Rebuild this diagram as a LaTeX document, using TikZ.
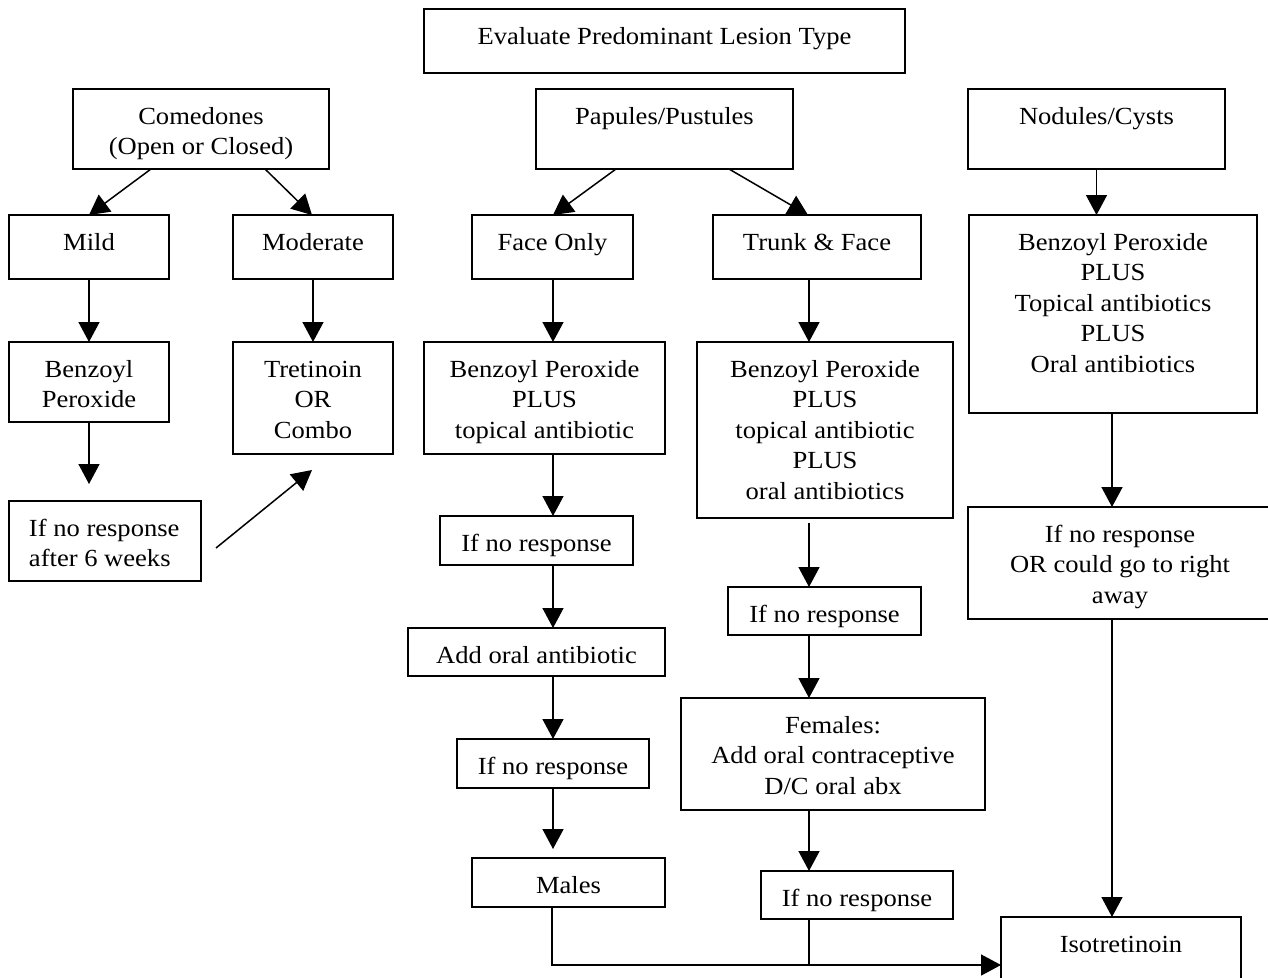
\documentclass[tikz,border=0pt]{standalone}
\usepackage{fontspec}
\setmainfont{Liberation Serif}[FakeStretch=1.08]
\usetikzlibrary{arrows.meta}
\newcommand{\bt}[3]{\parbox[t][#2pt][t]{#1pt}{\centering\rule{0pt}{35.5pt}#3}}
\newcommand{\btl}[3]{\parbox[t][#2pt][t]{#1pt}{\raggedright\leftskip=20pt\rule{0pt}{35.5pt}#3}}
\tikzset{
  box/.style={draw, line width=1.5pt, inner sep=0pt, outer sep=0pt, anchor=north west,
    font=\fontsize{24.6}{30.4}\selectfont},
  arr/.style={line width=1.5pt, -{Triangle[length=20pt,width=21pt]}},
  ln/.style={line width=1.5pt}
}
\begin{document}
\begin{tikzpicture}[x=1pt,y=-1pt]
\useasboundingbox (0,0) rectangle (1268,977);
\fill[white] (0,0) rectangle (1268,977);
\clip (0,0) rectangle (1268,977);
% top row
\node[box] (eval) at (424,9) {\bt{481}{64}{Evaluate Predominant Lesion Type}};
\node[box] (com) at (73,89) {\bt{256}{80}{Comedones\\(Open or Closed)}};
\node[box] (pap) at (536,89) {\bt{257}{80}{Papules/Pustules}};
\node[box] (nod) at (968,89) {\bt{257}{80}{Nodules/Cysts}};
% second row
\node[box] (mild) at (9,215) {\bt{160}{64}{Mild}};
\node[box] (mod) at (233,215) {\bt{160}{64}{Moderate}};
\node[box] (face) at (472,215) {\bt{161}{64}{Face Only}};
\node[box] (trunk) at (713,215) {\bt{208}{64}{Trunk \& Face}};
\node[box] (nbp) at (969,215) {\bt{288}{198}{Benzoyl Peroxide\\PLUS\\Topical antibiotics\\PLUS\\Oral antibiotics}};
% third row
\node[box] (mbp) at (9,342) {\bt{160}{80}{Benzoyl\\Peroxide}};
\node[box] (tret) at (233,342) {\bt{160}{112}{Tretinoin\\OR\\Combo}};
\node[box] (fbp) at (424,342) {\bt{241}{112}{Benzoyl Peroxide\\PLUS\\topical antibiotic}};
\node[box] (tbp) at (697,342) {\bt{256}{176}{Benzoyl Peroxide\\PLUS\\topical antibiotic\\PLUS\\oral antibiotics}};
% lower boxes
\node[box] (mnr) at (9,501) {\btl{192}{80}{If no response\\after 6 weeks}};
\node[box] (fnr1) at (440,516) {\bt{193}{49}{If no response}};
\node[box] (fadd) at (408,628) {\bt{257}{48}{Add oral antibiotic}};
\node[box] (fnr2) at (457,739) {\bt{192}{49}{If no response}};
\node[box] (males) at (472,858) {\bt{193}{49}{Males}};
\node[box] (tnr1) at (728,587) {\bt{193}{48}{If no response}};
\node[box] (fem) at (681,698) {\bt{304}{112}{Females:\\Add oral contraceptive\\D/C oral abx}};
\node[box] (tnr2) at (761,871) {\bt{192}{48}{If no response}};
\node[box] (nnr) at (968,507) {\bt{304}{112}{If no response\\OR could go to right\\away}};
\node[box] (iso) at (1001,917) {\bt{240}{80}{Isotretinoin}};
% helper coordinates
\coordinate (xF) at (553,0);
\coordinate (xT) at (809,0);
\coordinate (xN) at (1112,0);
\coordinate (jM) at (552,965);
\coordinate (c1) at (216,548);
\coordinate (c2) at (312,470);
% connectors
\draw[arr] ([xshift=-50pt]com.south) -- (mild.north);
\draw[arr] ([xshift=64pt]com.south) -- ([xshift=-1pt]mod.north);
\draw[arr] ([xshift=-48.5pt]pap.south) -- (face.north -| xF);
\draw[arr] ([xshift=64.5pt]pap.south) -- ([xshift=-9pt]trunk.north);
\draw[arr] (nod.south) -- (nbp.north -| nod.south);
\draw[arr] (mild.south) -- (mbp.north);
\draw[arr] (mod.south) -- (tret.north);
\draw[arr] (face.south -| xF) -- (fbp.north -| xF);
\draw[arr] (trunk.south -| xT) -- (tbp.north -| xT);
\draw[arr, shorten >=17pt] (mbp.south) -- (mnr.north -| mbp.south);
\draw[arr] (c1) -- (c2);
\draw[arr] (fbp.south -| xF) -- (fnr1.north -| xF);
\draw[arr] (fnr1.south -| xF) -- (fadd.north -| xF);
\draw[arr] (fadd.south -| xF) -- (fnr2.north -| xF);
\draw[arr, shorten >=9pt] (fnr2.south -| xF) -- (males.north -| xF);
\draw[arr, shorten <=5pt] (tbp.south -| xT) -- (tnr1.north -| xT);
\draw[arr] (tnr1.south -| xT) -- (fem.north -| xT);
\draw[arr] (fem.south -| xT) -- (tnr2.north -| xT);
\draw[arr] (nbp.south -| xN) -- (nnr.north -| xN);
\draw[arr] (nnr.south -| xN) -- (iso.north -| xN);
\draw[arr] (males.south -| jM) -- (jM) -- (iso.west |- jM);
\draw[ln] (tnr2.south -| xT) -- (xT |- jM);
\end{tikzpicture}
\end{document}
